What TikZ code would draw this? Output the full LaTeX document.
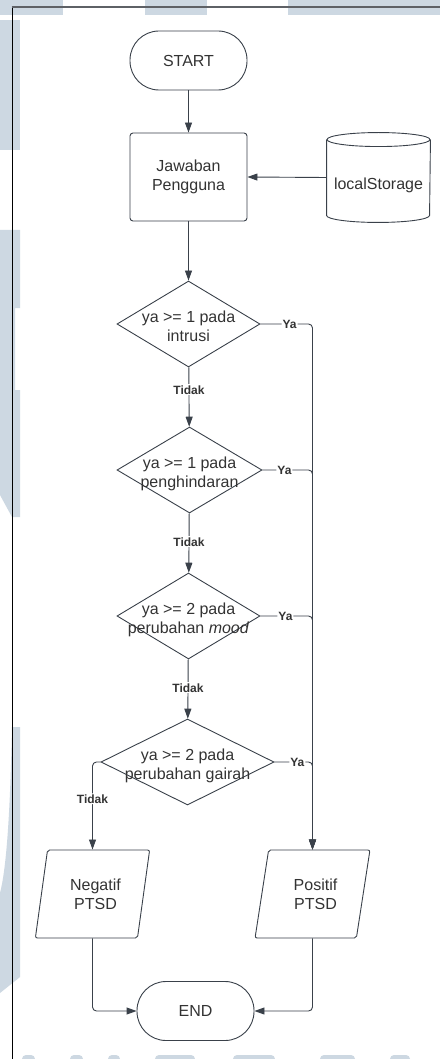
\documentclass[tikz,border=0pt]{standalone}
\usepackage{fontspec}
\setmainfont{Liberation Sans}
\usetikzlibrary{shapes.geometric,arrows.meta,calc}

\definecolor{edge}{HTML}{3A414A}
\definecolor{ink}{HTML}{333333}
\definecolor{wm}{HTML}{CDD8E2}
\definecolor{rule}{HTML}{5E6166}

% text of a decision, set over the diamond without widening it
\newcommand{\dlabel}[1]{\raisebox{-9pt}[0pt][0pt]{\makebox[0pt]{\begin{tabular}{@{}c@{}}#1\end{tabular}}}}

\tikzset{
  base/.style={draw=edge, line width=0.9pt, text=ink, font=\fontsize{16}{19}\selectfont},
  term/.style={base, rectangle, rounded corners=29pt, minimum width=117pt, minimum height=59pt},
  proc/.style={base, rectangle, rounded corners=3pt, minimum width=117pt, minimum height=88pt, align=center},
  dec/.style={base, diamond, inner sep=0pt, minimum height=86pt},
  io/.style={base, trapezium, trapezium left angle=76, trapezium right angle=104,
    trapezium stretches=true, minimum width=115pt, minimum height=88pt,
    rounded corners=2pt, align=center, inner sep=0pt},
  flow/.style={draw=edge, line width=0.9pt, -{Triangle[length=10pt,width=7pt]}},
  tag/.style={fill=white, text=ink, font=\bfseries\fontsize{12}{14}\selectfont, inner sep=1pt},
}

\begin{document}
\begin{tikzpicture}[x=1pt, y=-1pt]
\useasboundingbox (0,0) rectangle (440,1059);
\fill[white] (0,0) rectangle (440,1059);

% faint watermark around the page edges
\begin{scope}[fill=wm]
  \fill (0,0) rectangle (63,15);
  \fill (145,0) rectangle (207,15);
  \fill (288,0) rectangle (440,15);
  \fill (0,20) rectangle (20,150);
  \fill (0,230) -- (20,230) -- (20,308) -- (15,308) -- (15,390) -- (20,390)
        -- (20,517) -- (12,517) -- (0,495) -- cycle;
  \fill (12,727) -- (20,727) -- (20,977) -- (0,993) -- (0,893)
        .. controls (6,870) and (10,820) .. (12,727) -- cycle;
  \foreach \a/\b in {22/35, 70/83, 108/120, 155/195, 233/275, 320/355, 390/410}
    \fill[rounded corners=4pt] (\a,1055) rectangle (\b,1070);
\end{scope}

% page frame
\draw[black, line width=1pt] (12,7) -- (12,1059);
\draw[rule, line width=2pt] (11.5,7) -- (440,7);

% shapes
\node[term] (start) at (188.5,60.5) {START};
\node[proc] (jaw) at (188.5,177) {Jawaban\\Pengguna};
\node[base, draw=none, minimum width=103pt, minimum height=89pt] (db) at (378.5,177.5)
  {\raisebox{-12.5pt}[0pt][0pt]{localStorage}};
\draw[draw=edge, line width=0.9pt]
  ([yshift=-7pt]db.north west) -- ([yshift=7pt]db.south west)
  arc[start angle=180, end angle=360, x radius=51.5pt, y radius=7pt]
  -- ([yshift=-7pt]db.north east);
\draw[draw=edge, line width=0.9pt] ([yshift=-7pt]db.north) ellipse [x radius=51.5pt, y radius=7pt];

\node[dec, minimum width=143pt] (d1) at (188.5,324) {\dlabel{ya >= 1 pada\\intrusi}};
\node[dec, minimum width=145pt] (d2) at (189.5,470) {\dlabel{ya >= 1 pada\\penghindaran}};
\node[dec, minimum width=143pt] (d3) at (188.5,616) {\dlabel{ya >= 2 pada\\perubahan \textit{mood}}};
\node[dec, minimum width=173pt] (d4) at (187.5,762) {\dlabel{ya >= 2 pada\\perubahan gairah}};

\node[io] (neg) at (92.5,894) {\hspace{6pt}Negatif\\\hspace{6pt}PTSD};
\node[io] (pos) at (312.5,894) {\hspace{6pt}Positif\\\hspace{6pt}PTSD};
\node[term] (end) at (195.5,1011) {END};

% connectors
\draw[flow] (start) -- (jaw);
\draw[flow] (db.west) -- (jaw.east);
\draw[flow] (jaw) -- (d1);
\draw[flow] (d1) -- node[tag, pos=0.38] {Tidak} (d2);
\draw[flow] (d2) -- node[tag, pos=0.48] {Tidak} (d3);
\draw[flow] (d3) -- node[tag, pos=0.48] {Tidak} (d4);
\draw[flow, rounded corners=4pt] (d4.west) -| node[tag, pos=0.71] {Tidak} (neg.north);

\draw[flow, rounded corners=4pt] (d1.east) -| node[tag, pos=0.28] {Ya} (pos.north);
\draw[flow, rounded corners=4pt] (d2.east) -| node[tag, pos=0.22] {Ya} (pos.north);
\draw[flow, rounded corners=4pt] (d3.east) -| node[tag, pos=0.24] {Ya} (pos.north);
\draw[flow, rounded corners=4pt] (d4.east) -| node[tag, pos=0.3] {Ya} (pos.north);

\draw[flow, rounded corners=4pt] (neg.south) |- (end.west);
\draw[flow, rounded corners=4pt] (pos.south) |- (end.east);
\end{tikzpicture}
\end{document}
